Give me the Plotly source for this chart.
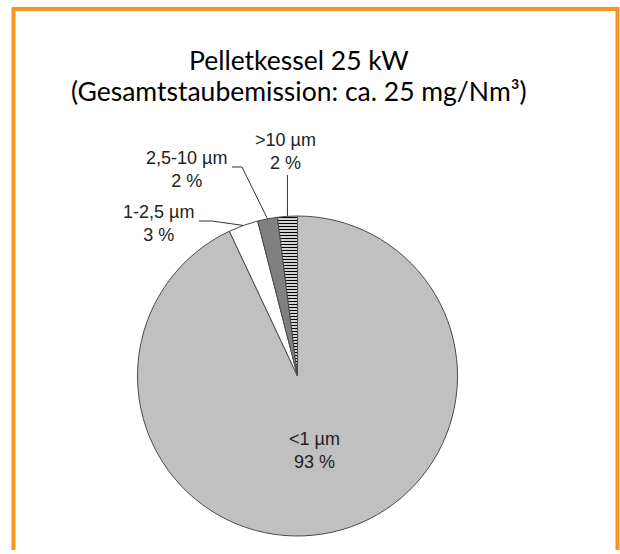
import math
import plotly.graph_objects as go

# ---- data ----
categories = ["<1 µm", "1-2,5 µm", "2,5-10 µm", ">10 µm"]
shares = [93, 3, 2, 2]
title_lines = ["Pelletkessel 25 kW", "(Gesamtstaubemission: ca. 25 mg/Nm³)"]

OFF = 0
W, H = 620, 550
CX, CY, R = 297.5, 376, 160

def px(x):
    return (x - OFF) / W

def py(y):
    return 1 - (y - OFF) / H

colors = ["#c0c0c0", "#ffffff", "#808080", "#ffffff"]
patterns = ["", "", "", "-"]
texts = [f"{c}<br>{v:g} %" for c, v in zip(categories, shares)]
LABEL_FONT = dict(family="Liberation Sans", size=18, color="#222222")

fig = go.Figure(go.Pie(
    labels=categories,
    values=shares,
    sort=False,
    direction="clockwise",
    rotation=0,
    marker=dict(
        colors=colors,
        line=dict(color="#4a4a4a", width=1),
        pattern=dict(shape=patterns, fgcolor="#000000", bgcolor="#ffffff",
                     size=3, solidity=0.45),
    ),
    textinfo="none",
    hoverinfo="label+percent",
    domain=dict(x=[px(CX - R), px(CX + R)], y=[max(0, py(CY + R)), py(CY - R)]),
    showlegend=False,
))

total = sum(shares)
cum = 0
mids = []
for v in shares:
    mids.append(2 * math.pi * (cum + v / 2) / total)
    cum += v

annotations = []
shapes = []

# label inside the big slice
th0 = mids[0]
annotations.append(dict(
    x=px(CX + 0.48 * R * math.sin(th0)), y=py(CY - 0.48 * R * math.cos(th0)),
    xref="paper", yref="paper", showarrow=False, text=texts[0], font=LABEL_FONT,
    align="center", xanchor="center", yanchor="middle",
))

# leader lines + outside labels for the small slices
label_pos = {1: (158, 223), 2: (186, 169), 3: (285, 151)}
elbow = {1: [(199, 221), (212, 221)], 2: [(232, 167), (242, 167)], 3: [None]}
for i, (lx, ly) in label_pos.items():
    annotations.append(dict(
        x=px(lx), y=py(ly), xref="paper", yref="paper", showarrow=False,
        text=texts[i], font=LABEL_FONT,
        align="center", xanchor="center", yanchor="middle",
    ))
    th = mids[i]
    ex = CX + R * math.sin(th)
    ey = CY - R * math.cos(th)
    if elbow[i][0] is None:
        pts = [(ex, 175), (ex, ey)]
    else:
        pts = elbow[i] + [(ex, ey)]
    path = "M " + " L ".join(f"{px(x):.5f},{py(y):.5f}" for x, y in pts)
    shapes.append(dict(type="path", xref="paper", yref="paper", path=path,
                       line=dict(color="#333333", width=1)))

# title
for t, y in zip(title_lines, [60, 91]):
    annotations.append(dict(
        x=px(299), y=py(y), xref="paper", yref="paper", showarrow=False,
        text=t, font=dict(family="Lato", size=26.5, color="#000000"),
        xanchor="center", yanchor="middle",
    ))

# orange frame
shapes.append(dict(type="rect", xref="paper", yref="paper",
                   x0=px(13.5), x1=px(617.5), y0=py(580), y1=py(9),
                   line=dict(color="#f7961e", width=4), fillcolor="rgba(0,0,0,0)"))

fig.update_layout(
    width=W, height=H,
    margin=dict(l=0, r=0, t=0, b=0),
    paper_bgcolor="#ffffff",
    plot_bgcolor="#ffffff",
    annotations=annotations,
    shapes=shapes,
)

fig.write_html(
    "out.html",
    config={"displayModeBar": False},
    post_script="document.body.style.margin='0';document.body.style.overflow='hidden';",
)
